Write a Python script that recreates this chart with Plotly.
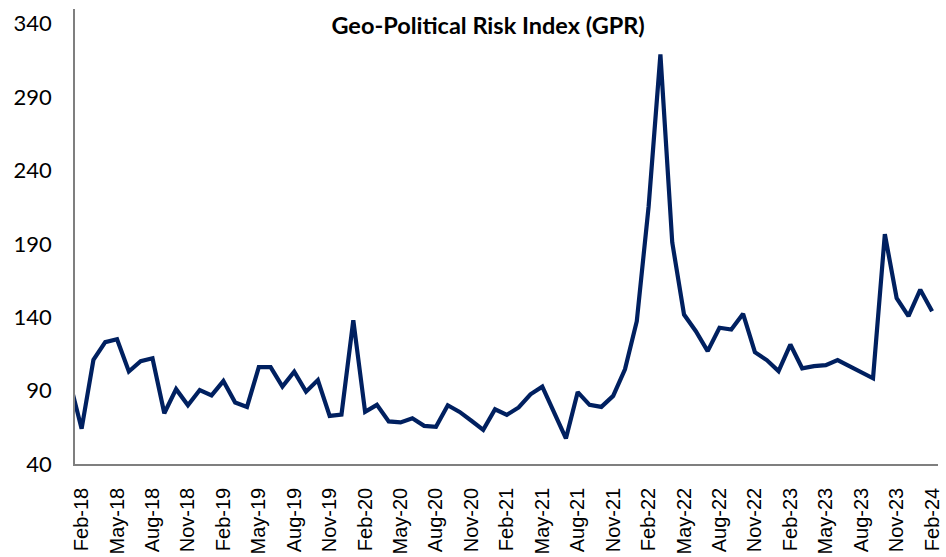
import plotly.graph_objects as go

months = ["Jan-18",
          "Feb-18", "Mar-18", "Apr-18", "May-18", "Jun-18", "Jul-18", "Aug-18", "Sep-18", "Oct-18", "Nov-18", "Dec-18",
          "Jan-19", "Feb-19", "Mar-19", "Apr-19", "May-19", "Jun-19", "Jul-19", "Aug-19", "Sep-19", "Oct-19", "Nov-19", "Dec-19",
          "Jan-20", "Feb-20", "Mar-20", "Apr-20", "May-20", "Jun-20", "Jul-20", "Aug-20", "Sep-20", "Oct-20", "Nov-20", "Dec-20",
          "Jan-21", "Feb-21", "Mar-21", "Apr-21", "May-21", "Jun-21", "Jul-21", "Aug-21", "Sep-21", "Oct-21", "Nov-21", "Dec-21",
          "Jan-22", "Feb-22", "Mar-22", "Apr-22", "May-22", "Jun-22", "Jul-22", "Aug-22", "Sep-22", "Oct-22", "Nov-22", "Dec-22",
          "Jan-23", "Feb-23", "Mar-23", "Apr-23", "May-23", "Jun-23", "Jul-23", "Aug-23", "Sep-23", "Oct-23", "Nov-23", "Dec-23",
          "Jan-24", "Feb-24"]

gpr = [96,
       64, 111, 123, 125, 103, 110, 112, 74.6, 91, 80, 90.4,
       86.8, 96.5, 81.9, 78.9, 106, 106, 92.7, 102.9, 89.3, 97.2, 72.8, 73.7,
       138, 75.5, 80.3, 69, 68.3, 71.2, 66, 65.3, 80, 75.5, 69.5, 63.3,
       77.3, 73.5, 78.5, 87.5, 92.7, 75, 57.4, 89, 80.3, 78.9, 86.4, 104.5,
       137.3, 215.3, 319, 191, 141.8, 130.5, 116.9, 132.8, 131.6, 142.3, 116.2, 110.8,
       103.3, 121.4, 105.2, 106.7, 107.4, 110.8, 106.7, 101.8, 98.4, 196.6, 153, 140.7,
       158.8, 144]

tick_labels = ["Feb-18", "May-18", "Aug-18", "Nov-18", "Feb-19", "May-19", "Aug-19", "Nov-19",
               "Feb-20", "May-20", "Aug-20", "Nov-20", "Feb-21", "May-21", "Aug-21", "Nov-21",
               "Feb-22", "May-22", "Aug-22", "Nov-22", "Feb-23", "May-23", "Aug-23", "Nov-23", "Feb-24"]
y_ticks = [40, 90, 140, 190, 240, 290, 340]

x_idx = list(range(len(months)))
tick_pos = [months.index(t) for t in tick_labels]

fig = go.Figure()
fig.add_trace(go.Scatter(x=x_idx, y=gpr, mode="lines",
                         line=dict(color="#002060", width=4.2),
                         hoverinfo="skip"))

fig.update_layout(
    width=946, height=557,
    margin=dict(l=75, r=3, t=9, b=92),
    paper_bgcolor="white", plot_bgcolor="white",
    showlegend=False,
    title=dict(text="<b>Geo-Political Risk Index (GPR)</b>",
               font=dict(family="Lato", size=23.5, color="black"),
               x=0.516, xref="container", xanchor="center",
               y=0.953, yref="container", yanchor="middle"),
    xaxis=dict(range=[0.44, 73.5], tickmode="array", tickvals=tick_pos, ticktext=tick_labels,
               tickangle=-90, showgrid=False, zeroline=False,
               showline=True, linecolor="#7f7f7f", linewidth=1.5,
               ticks="outside", ticklen=14, tickcolor="rgba(0,0,0,0)",
               ticklabeloverflow="allow",
               tickfont=dict(family="Liberation Sans", size=20, color="black")),
    yaxis=dict(range=[40, 350], tickmode="array", tickvals=y_ticks,
               showgrid=False, zeroline=False,
               showline=True, linecolor="#7f7f7f", linewidth=1.5,
               ticks="outside", ticklen=17, tickcolor="rgba(0,0,0,0)",
               tickfont=dict(family="Lato", size=22, color="black")),
)

fig.write_html("out.html", config={"displayModeBar": False},
               post_script="document.body.style.margin='0';document.body.style.overflow='hidden';")
